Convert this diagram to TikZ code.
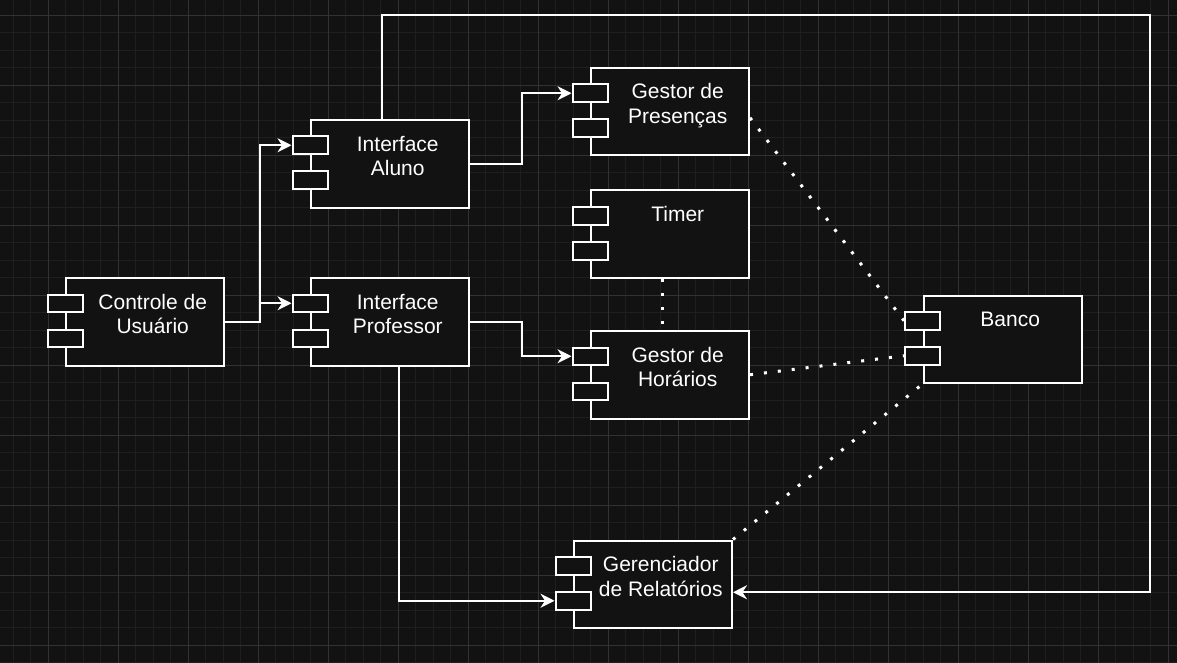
\documentclass[tikz,border=0pt]{standalone}
\usepackage{fontspec}
\setmainfont{Liberation Sans}
\usetikzlibrary{arrows.meta}
\definecolor{bgc}{HTML}{121212}
\definecolor{gridminor}{HTML}{1f1f1f}
\definecolor{gridmajor}{HTML}{323232}
\newcommand\mycomp[5]{%
  \node[comp] (#1) at (#2,#3) {};
  \node[port] (#1-a) at (#2,#3+26.25) {};
  \node[port] (#1-b) at (#2,#3+61.25) {};
  \node[lbl] (#1-t) at (#2+87.75,#3+32+#5) {#4};
}
\begin{document}
\begin{tikzpicture}[x=1pt,y=-1pt,
  comp/.style={draw=white, fill=bgc, line width=2pt, minimum width=158pt, minimum height=87.5pt, inner sep=0pt, anchor=north west},
  port/.style={draw=white, fill=bgc, line width=2pt, minimum width=35pt, minimum height=17.5pt, inner sep=0pt},
  lbl/.style={text=white, font=\fontsize{21}{24.5}\selectfont, align=center, anchor=base, inner sep=0pt},
  conn/.style={draw=white, line width=2pt, -{Stealth[length=14pt,width=14pt,inset=4.5pt]}},
  link/.style={draw=white, line width=3pt, dash pattern=on 3pt off 11pt}]
\useasboundingbox (0,0) rectangle (1177,663);
\fill[bgc] (0,0) rectangle (1177,663);
% grid
\foreach \x in {13,30.5,...,1177} \draw[gridminor, line width=0.8pt] (\x,0) -- (\x,663);
\foreach \y in {15,32.5,...,663} \draw[gridminor, line width=0.8pt] (0,\y) -- (1177,\y);
\foreach \x in {48,118,...,1177} \draw[gridmajor, line width=0.8pt] (\x,0) -- (\x,663);
\foreach \y in {15,85,...,663} \draw[gridmajor, line width=0.8pt] (0,\y) -- (1177,\y);
% components
\mycomp{ctrl}{65}{277}{Controle de\\Usuário}{24.5}
\mycomp{ia}{310}{119}{Interface\\Aluno}{24.5}
\mycomp{ip}{310}{277}{Interface\\Professor}{24.5}
\mycomp{gp}{590}{67}{Gestor de\\Presenças}{24.5}
\mycomp{timer}{590}{189.5}{Timer}{0}
\mycomp{gh}{590}{330}{Gestor de\\Horários}{24.5}
\mycomp{banco}{922.5}{294.5}{Banco}{0}
\mycomp{gr}{573}{539.5}{Gerenciador\\de Relatórios}{24.5}
\coordinate (topright) at (1150,15);
% connectors
\draw[conn] (ctrl.east) -- ++(35,0) |- (ia-a.west);
\draw[conn] (ctrl.east) -- ++(35,0) |- (ip-a.west);
\draw[conn] (ia.east) -- ++(52,0) |- (gp-a.west);
\draw[conn] (ip.east) -- ++(52,0) |- (gh-a.west);
\draw[conn] ([xshift=-8pt]ia.north) |- (topright) |- ([yshift=-8pt]gr.east);
\draw[conn] ([xshift=9pt]ip.south) |- (gr-b.west);
% dotted links
\draw[link] ([xshift=-8pt]timer.south) -- ([xshift=-8pt]gh.north);
\draw[link] ([yshift=-6pt]gp.east) -- (banco-a.west);
\draw[link] (gh.east) -- (banco-b.west);
\draw[link] (gr.north east) -- (banco.south west);
\end{tikzpicture}
\end{document}
